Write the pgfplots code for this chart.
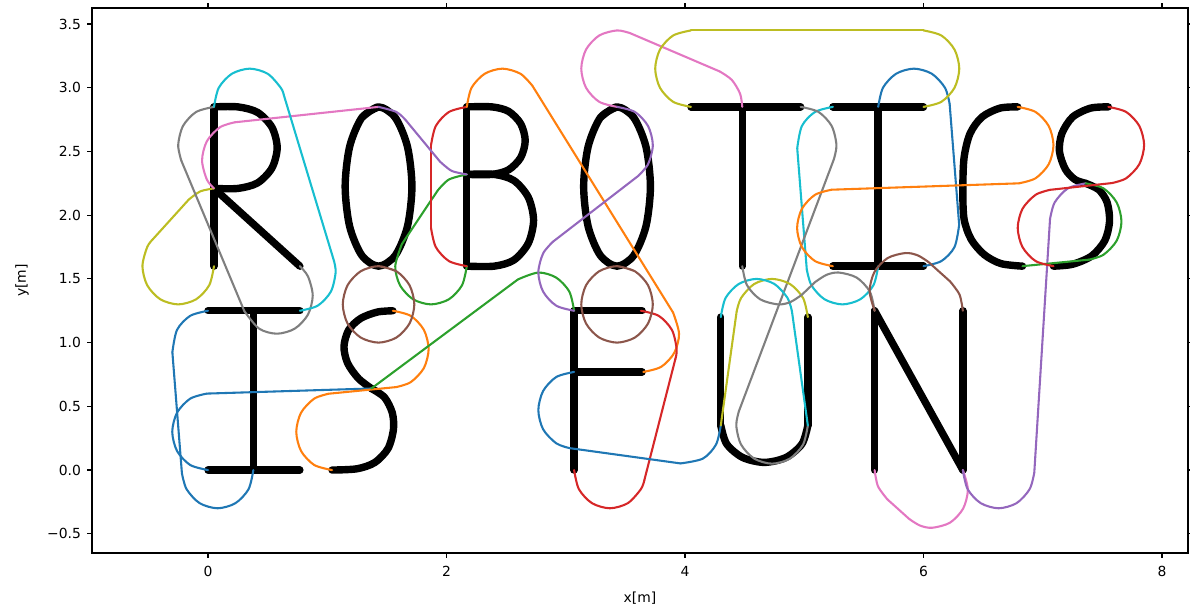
\documentclass[border=0pt]{standalone}
\usepackage{fontspec}
\setmainfont{DejaVu Sans}
\usepackage{pgfplots}
\pgfplotsset{compat=1.18}

% matplotlib tab10 cycle
\definecolor{c0}{HTML}{1F77B4}
\definecolor{c1}{HTML}{FF7F0E}
\definecolor{c2}{HTML}{2CA02C}
\definecolor{c3}{HTML}{D62728}
\definecolor{c4}{HTML}{9467BD}
\definecolor{c5}{HTML}{8C564B}
\definecolor{c6}{HTML}{E377C2}
\definecolor{c7}{HTML}{7F7F7F}
\definecolor{c8}{HTML}{BCBD22}
\definecolor{c9}{HTML}{17BECF}

\pgfplotsset{
  letter/.style={black, line width=3.7bp, line cap=round, line join=round},
  route/.style={line width=1.04bp, line cap=round, line join=round},
}

\begin{document}
\begin{tikzpicture}
\useasboundingbox (0,0) rectangle (595bp,306bp);
\begin{axis}[
  at={(46bp,29.5bp)}, anchor=south west,
  scale only axis, width=548bp, height=272.5bp,
  xmin=-0.973, xmax=8.218, ymin=-0.651, ymax=3.626,
  axis line style={line width=0.56bp},
  every tick/.style={black, line width=0.56bp},
  tick align=outside, major tick length=2.43bp,
  xtick={0,2,4,6,8}, xticklabels={0,2,4,6,8},
  ytick={-0.5,0,0.5,1,1.5,2,2.5,3,3.5},
  yticklabels={−0.5,0.0,0.5,1.0,1.5,2.0,2.5,3.0,3.5},
  tick label style={font=\fontsize{6.95bp}{8bp}\selectfont},
  xticklabel style={anchor=north, inner sep=0pt, yshift=-3.9bp},
  yticklabel style={anchor=east, inner sep=0pt, xshift=-2.9bp},
  xlabel={x[m]}, ylabel={y[m]},
  label style={font=\fontsize{6.95bp}{8bp}\selectfont, inner sep=0pt},
  xlabel style={at={(axis description cs:0.5,0)}, anchor=north, yshift=-19.5bp},
  ylabel style={at={(axis description cs:0,0.5)}, anchor=center, yshift=35bp},
]
% ---------------- letters ----------------
% R
\addplot[letter] coordinates {(0.05,1.6) (0.05,2.85)};
\addplot[letter, smooth] coordinates {(0.05,2.85) (0.25,2.85) (0.415,2.807) (0.536,2.69) (0.58,2.53) (0.536,2.37) (0.415,2.253) (0.25,2.21) (0.05,2.21)};
\addplot[letter] coordinates {(0.05,2.21) (0.77,1.6)};
% O
\addplot[letter, smooth] coordinates {(1.43,2.85) (1.29,2.766) (1.1875,2.5375) (1.15,2.225) (1.1875,1.9125) (1.29,1.684) (1.43,1.6) (1.57,1.684) (1.6725,1.9125) (1.71,2.225) (1.6725,2.5375) (1.57,2.766) (1.43,2.85) (1.29,2.766)};
% B
\addplot[letter] coordinates {(2.17,1.6) (2.17,2.85)};
\addplot[letter, smooth] coordinates {(2.17,2.85) (2.38,2.85) (2.52,2.815) (2.622,2.718) (2.66,2.585) (2.622,2.452) (2.52,2.356) (2.38,2.32) (2.17,2.32)};
\addplot[letter, smooth] coordinates {(2.17,2.32) (2.40,2.32) (2.565,2.272) (2.686,2.14) (2.73,1.96) (2.686,1.78) (2.565,1.648) (2.40,1.6) (2.17,1.6)};
% O
\addplot[letter, smooth] coordinates {(3.43,2.85) (3.29,2.766) (3.1875,2.5375) (3.15,2.225) (3.1875,1.9125) (3.29,1.684) (3.43,1.6) (3.57,1.684) (3.6725,1.9125) (3.71,2.225) (3.6725,2.5375) (3.57,2.766) (3.43,2.85) (3.29,2.766)};
% T
\addplot[letter] coordinates {(4.05,2.85) (4.97,2.85)};
\addplot[letter] coordinates {(4.48,2.85) (4.48,1.6)};
% I
\addplot[letter] coordinates {(5.24,2.85) (6.0,2.85)};
\addplot[letter] coordinates {(5.62,2.85) (5.62,1.6)};
\addplot[letter] coordinates {(5.24,1.6) (6.0,1.6)};
% C
\addplot[letter, smooth] coordinates {(6.79,2.85) (6.64,2.84) (6.49,2.77) (6.39,2.64) (6.34,2.45) (6.33,2.2) (6.34,1.97) (6.4,1.81) (6.51,1.69) (6.65,1.62) (6.83,1.6)};
% S
\addplot[letter, smooth] coordinates {(7.55,2.85) (7.40,2.84) (7.25,2.77) (7.16,2.64) (7.14,2.5) (7.19,2.36) (7.27,2.28) (7.36,2.25)};
\addplot[letter, smooth] coordinates {(7.36,2.25) (7.47,2.20) (7.54,2.10) (7.56,1.95) (7.52,1.80) (7.41,1.68) (7.25,1.615) (7.09,1.6)};
% I
\addplot[letter] coordinates {(0,1.25) (0.77,1.25)};
\addplot[letter] coordinates {(0.38,1.25) (0.38,0)};
\addplot[letter] coordinates {(0,0) (0.77,0)};
% S
\addplot[letter, smooth] coordinates {(1.55,1.25) (1.42,1.24) (1.28,1.19) (1.18,1.1) (1.14,0.97) (1.17,0.84) (1.26,0.72) (1.37,0.64)};
\addplot[letter, smooth] coordinates {(1.37,0.64) (1.48,0.57) (1.545,0.45) (1.555,0.32) (1.51,0.17) (1.4,0.06) (1.25,0.01) (1.04,0.0)};
% F
\addplot[letter] coordinates {(3.07,1.25) (3.07,0)};
\addplot[letter] coordinates {(3.07,1.25) (3.64,1.25)};
\addplot[letter] coordinates {(3.07,0.77) (3.64,0.77)};
% U
\addplot[letter] coordinates {(4.30,1.2) (4.30,0.35)};
\addplot[letter, smooth] coordinates {(4.30,0.35) (4.349,0.205) (4.4825,0.099) (4.665,0.06) (4.8475,0.099) (4.981,0.205) (5.03,0.35)};
\addplot[letter] coordinates {(5.03,0.35) (5.03,1.2)};
% N
\addplot[letter] coordinates {(5.59,0) (5.59,1.25)};
\addplot[letter] coordinates {(5.59,1.25) (6.33,0)};
\addplot[letter] coordinates {(6.33,0) (6.33,1.25)};

% ---------------- Dubins connections (turning radius 0.3) ----------------
% olive: R stem bottom -> R middle
\addplot[route, c8, smooth] coordinates {(0.05,1.6) (0.01,1.45) (-0.10,1.34) (-0.25,1.3) (-0.40,1.34) (-0.51,1.45) (-0.55,1.6) (-0.51,1.75) (-0.462,1.812)};
\addplot[route, c8] coordinates {(-0.462,1.812) (-0.162,2.122)};
\addplot[route, c8, smooth] coordinates {(-0.162,2.122) (-0.065,2.187) (0.05,2.21)};
% pink: R middle -> O top
\addplot[route, c6, smooth] coordinates {(0.05,2.21) (-0.01,2.28) (-0.05,2.43) (-0.01,2.58) (0.10,2.69) (0.224,2.729)};
\addplot[route, c6] coordinates {(0.224,2.729) (1.43,2.85)};
% gray: R leg end -> R top
\addplot[route, c7, smooth] coordinates {(0.77,1.6) (0.838,1.52) (0.878,1.37) (0.838,1.22) (0.728,1.11) (0.578,1.07) (0.428,1.11) (0.304,1.248)};
\addplot[route, c7] coordinates {(0.304,1.248) (-0.224,2.428)};
\addplot[route, c7, smooth] coordinates {(-0.224,2.428) (-0.25,2.55) (-0.21,2.70) (-0.10,2.81) (0.05,2.85)};
% cyan: R top -> I top bar
\addplot[route, c9, smooth] coordinates {(0.05,2.85) (0.09,3.0) (0.2,3.11) (0.35,3.15) (0.5,3.11) (0.61,3.0) (0.636,2.942)};
\addplot[route, c9] coordinates {(0.636,2.942) (1.056,1.642)};
\addplot[route, c9, smooth] coordinates {(1.056,1.642) (1.07,1.55) (1.03,1.40) (0.92,1.29) (0.77,1.25)};
% blue: I top bar -> I stem
\addplot[route, c0, smooth] coordinates {(0,1.25) (-0.15,1.21) (-0.26,1.10) (-0.299,0.925)};
\addplot[route, c0] coordinates {(-0.299,0.925) (-0.219,-0.025)};
\addplot[route, c0, smooth] coordinates {(-0.219,-0.025) (-0.18,-0.15) (-0.07,-0.26) (0.08,-0.3) (0.23,-0.26) (0.34,-0.15) (0.38,0)};
% blue: I bottom bar -> S middle
\addplot[route, c0, smooth] coordinates {(0,0) (-0.15,0.04) (-0.26,0.15) (-0.3,0.3) (-0.26,0.45) (-0.15,0.56) (-0.01,0.6)};
\addplot[route, c0] coordinates {(-0.01,0.6) (1.37,0.64)};
% orange: S top -> S bottom
\addplot[route, c1, smooth] coordinates {(1.55,1.25) (1.70,1.21) (1.81,1.10) (1.85,0.95) (1.81,0.80) (1.70,0.69) (1.578,0.651)};
\addplot[route, c1] coordinates {(1.578,0.651) (1.012,0.599)};
\addplot[route, c1, smooth] coordinates {(1.012,0.599) (0.89,0.56) (0.78,0.45) (0.74,0.3) (0.78,0.15) (0.89,0.04) (1.04,0)};
% green: S middle -> F top
\addplot[route, c2] coordinates {(1.37,0.64) (2.599,1.496)};
\addplot[route, c2, smooth] coordinates {(2.599,1.496) (2.77,1.55) (2.92,1.51) (3.03,1.40) (3.07,1.25)};
% green: B middle -> B bottom
\addplot[route, c2, smooth] coordinates {(2.17,2.32) (2.02,2.28) (1.926,2.194)};
\addplot[route, c2] coordinates {(1.926,2.194) (1.626,1.774)};
\addplot[route, c2, smooth] coordinates {(1.626,1.774) (1.57,1.6) (1.61,1.45) (1.72,1.34) (1.87,1.3) (2.02,1.34) (2.13,1.45) (2.17,1.6)};
% red: B top -> B bottom
\addplot[route, c3, smooth] coordinates {(2.17,2.85) (2.02,2.81) (1.91,2.70) (1.87,2.55)};
\addplot[route, c3] coordinates {(1.87,2.55) (1.87,1.9)};
\addplot[route, c3, smooth] coordinates {(1.87,1.9) (1.91,1.75) (2.02,1.64) (2.17,1.6)};
% purple: O top -> B middle
\addplot[route, c4, smooth] coordinates {(1.43,2.85) (1.58,2.81) (1.655,2.749)};
\addplot[route, c4] coordinates {(1.655,2.749) (1.945,2.421)};
\addplot[route, c4, smooth] coordinates {(1.945,2.421) (2.043,2.348) (2.17,2.32)};
% orange: B top -> F middle bar
\addplot[route, c1, smooth] coordinates {(2.17,2.85) (2.21,3.0) (2.32,3.11) (2.47,3.15) (2.62,3.11) (2.72,3.016)};
\addplot[route, c1] coordinates {(2.72,3.016) (3.90,1.236)};
\addplot[route, c1, smooth] coordinates {(3.90,1.236) (3.95,1.07) (3.91,0.92) (3.80,0.81) (3.65,0.77)};
% pink: O top -> T stem
\addplot[route, c6, smooth] coordinates {(3.43,2.85) (3.28,2.89) (3.17,3.0) (3.13,3.15) (3.17,3.3) (3.28,3.41) (3.43,3.45) (3.541,3.428)};
\addplot[route, c6] coordinates {(3.541,3.428) (4.291,3.128)};
\addplot[route, c6, smooth] coordinates {(4.291,3.128) (4.392,3.062) (4.462,2.953) (4.48,2.85)};
% purple: O top -> F top bar
\addplot[route, c4, smooth] coordinates {(3.43,2.85) (3.58,2.81) (3.69,2.70) (3.73,2.55) (3.69,2.40) (3.606,2.307)};
\addplot[route, c4] coordinates {(3.606,2.307) (2.894,1.793)};
\addplot[route, c4, smooth] coordinates {(2.894,1.793) (2.81,1.70) (2.77,1.55) (2.81,1.40) (2.92,1.29) (3.07,1.25)};
% red: F stem bottom -> F top bar end
\addplot[route, c3, smooth] coordinates {(3.07,0) (3.11,-0.15) (3.22,-0.26) (3.37,-0.3) (3.52,-0.26) (3.63,-0.15) (3.659,-0.079)};
\addplot[route, c3] coordinates {(3.659,-0.079) (3.919,0.871)};
\addplot[route, c3, smooth] coordinates {(3.919,0.871) (3.93,0.95) (3.89,1.10) (3.78,1.21) (3.63,1.25)};
% blue: F middle bar -> U
\addplot[route, c0, smooth] coordinates {(3.07,0.77) (2.92,0.73) (2.81,0.62) (2.77,0.47) (2.81,0.32) (2.92,0.21) (3.032,0.172)};
\addplot[route, c0] coordinates {(3.032,0.172) (3.962,0.052)};
\addplot[route, c0, smooth] coordinates {(3.962,0.052) (4.15,0.09) (4.26,0.2) (4.30,0.35)};
% cyan: I top bar -> I stem bottom
\addplot[route, c9, smooth] coordinates {(5.24,2.85) (5.09,2.81) (4.98,2.70) (4.941,2.525)};
\addplot[route, c9] coordinates {(4.941,2.525) (5.021,1.575)};
\addplot[route, c9, smooth] coordinates {(5.021,1.575) (5.06,1.45) (5.17,1.34) (5.32,1.3) (5.47,1.34) (5.58,1.45) (5.62,1.6)};
% blue: I stem top -> I bottom bar
\addplot[route, c0, smooth] coordinates {(5.62,2.85) (5.66,3.0) (5.77,3.11) (5.92,3.15) (6.07,3.11) (6.18,3.0) (6.219,2.875)};
\addplot[route, c0] coordinates {(6.219,2.875) (6.299,1.925)};
\addplot[route, c0, smooth] coordinates {(6.299,1.925) (6.26,1.75) (6.15,1.64) (6.0,1.6)};
% olive: I top bar -> T bar
\addplot[route, c8, smooth] coordinates {(6.0,2.85) (6.15,2.89) (6.26,3.0) (6.3,3.15) (6.26,3.3) (6.15,3.41) (6.0,3.45)};
\addplot[route, c8] coordinates {(6.0,3.45) (4.05,3.45)};
\addplot[route, c8, smooth] coordinates {(4.05,3.45) (3.90,3.41) (3.79,3.3) (3.75,3.15) (3.79,3.0) (3.90,2.89) (4.05,2.85)};
% gray: T bar -> U right
\addplot[route, c7, smooth] coordinates {(4.97,2.85) (5.12,2.81) (5.23,2.70) (5.27,2.55) (5.248,2.438)};
\addplot[route, c7] coordinates {(5.248,2.438) (4.452,0.462)};
\addplot[route, c7, smooth] coordinates {(4.452,0.462) (4.43,0.35) (4.47,0.2) (4.58,0.09) (4.73,0.05) (4.88,0.09) (4.99,0.2) (5.03,0.35)};
% olive: U bottom left -> U right top
\addplot[route, c8] coordinates {(4.30,0.35) (4.433,1.244)};
\addplot[route, c8, smooth] coordinates {(4.433,1.244) (4.47,1.35) (4.58,1.46) (4.73,1.5) (4.88,1.46) (4.99,1.35) (5.03,1.2)};
% cyan: U left top -> U right bottom
\addplot[route, c9, smooth] coordinates {(4.30,1.2) (4.34,1.35) (4.45,1.46) (4.60,1.5) (4.75,1.46) (4.86,1.35) (4.897,1.244)};
\addplot[route, c9] coordinates {(4.897,1.244) (5.03,0.35)};
% gray: T stem bottom -> N left top
\addplot[route, c7, smooth] coordinates {(4.48,1.6) (4.52,1.45) (4.63,1.34) (4.78,1.3) (4.883,1.318) (4.979,1.375)};
\addplot[route, c7] coordinates {(4.979,1.375) (5.091,1.475)};
\addplot[route, c7, smooth] coordinates {(5.091,1.475) (5.187,1.532) (5.29,1.55) (5.44,1.51) (5.55,1.40) (5.59,1.25)};
% brown: N diagonal top -> N right top
\addplot[route, c5, smooth] coordinates {(5.59,1.25) (5.548,1.403) (5.588,1.553) (5.698,1.663) (5.848,1.703) (5.951,1.685) (6.041,1.633)};
\addplot[route, c5] coordinates {(6.041,1.633) (6.223,1.48)};
\addplot[route, c5, smooth] coordinates {(6.223,1.48) (6.302,1.377) (6.33,1.25)};
% pink: N left bottom -> N diagonal bottom
\addplot[route, c6, smooth] coordinates {(5.59,0) (5.618,-0.127) (5.697,-0.230)};
\addplot[route, c6] coordinates {(5.697,-0.230) (5.879,-0.383)};
\addplot[route, c6, smooth] coordinates {(5.879,-0.383) (5.969,-0.435) (6.072,-0.453) (6.222,-0.413) (6.332,-0.303) (6.372,-0.153) (6.33,0)};
% purple: S middle -> N right bottom
\addplot[route, c4, smooth] coordinates {(7.36,2.25) (7.21,2.21) (7.10,2.10) (7.061,1.970)};
\addplot[route, c4] coordinates {(7.061,1.970) (6.929,-0.020)};
\addplot[route, c4, smooth] coordinates {(6.929,-0.020) (6.89,-0.15) (6.78,-0.26) (6.63,-0.3) (6.48,-0.26) (6.37,-0.15) (6.33,0)};
% green: C bottom -> S middle
\addplot[route, c2] coordinates {(6.83,1.6) (7.387,1.651)};
\addplot[route, c2, smooth] coordinates {(7.387,1.651) (7.51,1.69) (7.62,1.80) (7.66,1.95) (7.62,2.10) (7.51,2.21) (7.36,2.25)};
% red: S top -> S bottom
\addplot[route, c3, smooth] coordinates {(7.55,2.85) (7.70,2.81) (7.81,2.70) (7.85,2.55) (7.81,2.40) (7.70,2.29) (7.579,2.252)};
\addplot[route, c3] coordinates {(7.579,2.252) (7.061,2.199)};
\addplot[route, c3, smooth] coordinates {(7.061,2.199) (6.94,2.16) (6.83,2.05) (6.79,1.9) (6.83,1.75) (6.94,1.64) (7.09,1.6)};
% orange: I bottom bar -> C top
\addplot[route, c1, smooth] coordinates {(5.24,1.6) (5.09,1.64) (4.98,1.75) (4.94,1.9) (4.98,2.05) (5.09,2.16) (5.23,2.2)};
\addplot[route, c1] coordinates {(5.23,2.2) (6.80,2.25)};
\addplot[route, c1, smooth] coordinates {(6.80,2.25) (6.94,2.29) (7.05,2.40) (7.09,2.55) (7.05,2.70) (6.94,2.81) (6.79,2.85)};
% brown: full turns under both O's
\addplot[route, c5, smooth] coordinates {(1.43,1.6) (1.58,1.56) (1.69,1.45) (1.73,1.3) (1.69,1.15) (1.58,1.04) (1.43,1.0) (1.28,1.04) (1.17,1.15) (1.13,1.3) (1.17,1.45) (1.28,1.56) (1.43,1.6) (1.58,1.56)};
\addplot[route, c5, smooth] coordinates {(3.43,1.6) (3.58,1.56) (3.69,1.45) (3.73,1.3) (3.69,1.15) (3.58,1.04) (3.43,1.0) (3.28,1.04) (3.17,1.15) (3.13,1.3) (3.17,1.45) (3.28,1.56) (3.43,1.6) (3.58,1.56)};
\end{axis}
\end{tikzpicture}
\end{document}
